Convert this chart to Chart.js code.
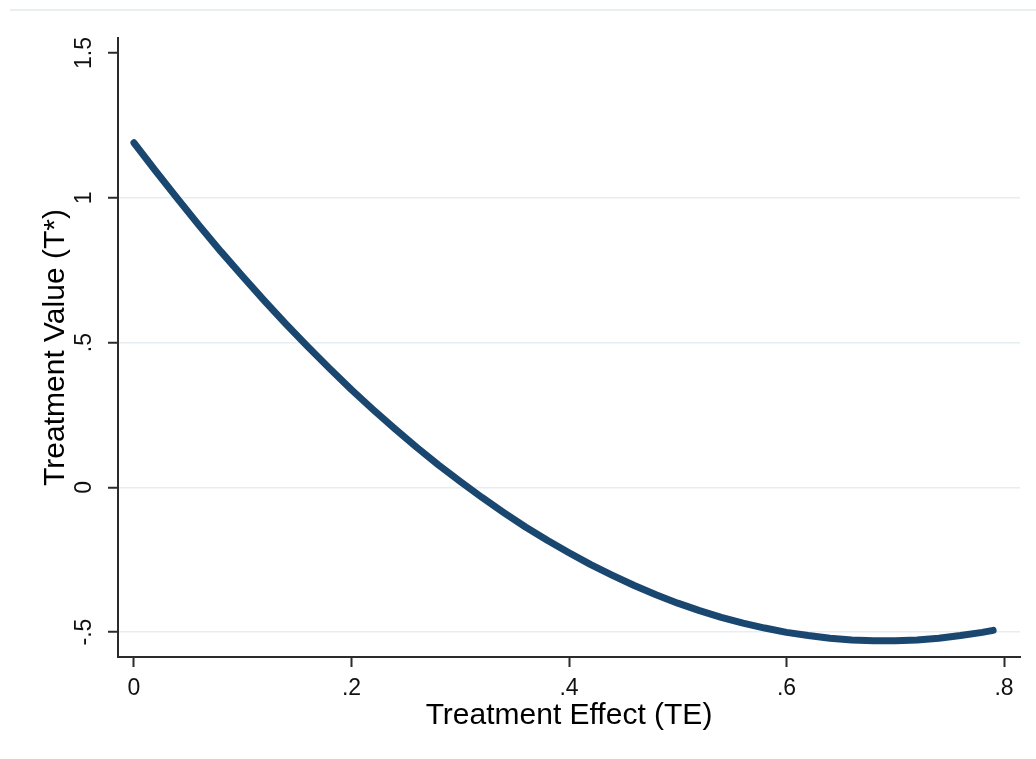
<!DOCTYPE html>
<html>
<head>
<meta charset="utf-8">
<script src="https://cdn.jsdelivr.net/npm/chart.js@4/dist/chart.umd.min.js"></script>
<style>
  html, body { margin: 0; padding: 0; background: #fff; }
  #wrap { width: 1036px; height: 759px; position: relative; }
</style>
</head>
<body>
<div id="wrap"><canvas id="chart" width="1036" height="759"></canvas></div>
<script>
// treatment effect (TE) and treatment value (T*)
const teValues = [
	0, 0.02, 0.04, 0.06, 0.08, 0.10, 0.12, 0.14, 0.16, 0.18,
	0.20, 0.22, 0.24, 0.26, 0.28, 0.30, 0.32, 0.34, 0.36, 0.38,
	0.40, 0.42, 0.44, 0.46, 0.48, 0.50, 0.52, 0.54, 0.56, 0.58,
	0.60, 0.62, 0.64, 0.66, 0.68, 0.70, 0.72, 0.74, 0.76, 0.78, 0.79,
];
const tValues = [
	1.19, 1.092, 0.997, 0.904, 0.814, 0.728, 0.644, 0.563, 0.485, 0.410,
	0.337, 0.268, 0.202, 0.138, 0.077, 0.020, -0.035, -0.087, -0.137, -0.183,
	-0.226, -0.267, -0.304, -0.339, -0.371, -0.400, -0.426, -0.449, -0.469, -0.486,
	-0.501, -0.512, -0.521, -0.527, -0.530, -0.530, -0.527, -0.521, -0.512, -0.501, -0.494,
];

const xTicks = [0, 0.2, 0.4, 0.6, 0.8];
const xTickLabels = ['0', '.2', '.4', '.6', '.8'];
const yTicks = [-0.5, 0, 0.5, 1, 1.5];
const yTickLabels = ['-.5', '0', '.5', '1', '1.5'];

const FONT = '"Liberation Sans", Arial, sans-serif';
const AXIS = '#2b2b2b';
const GRID = '#e6eef1';

// faint frame line across the top, as in the original export
const topRule = {
	id: 'topRule',
	beforeDraw(chart) {
		const ctx = chart.ctx;
		ctx.save();
		ctx.strokeStyle = '#e9eff1';
		ctx.lineWidth = 2;
		ctx.beginPath();
		ctx.moveTo(10, 10);
		ctx.lineTo(chart.width, 10);
		ctx.stroke();
		ctx.restore();
	},
};

const points = teValues.map((x, i) => ({ x, y: tValues[i] }));

new Chart(document.getElementById('chart'), {
	type: 'line',
	data: {
		datasets: [{
			data: points,
			borderColor: '#1a476f',
			borderWidth: 7,
			borderCapStyle: 'round',
			borderJoinStyle: 'round',
			pointRadius: 0,
			tension: 0,
			fill: false,
		}],
	},
	options: {
		responsive: false,
		animation: false,
		layout: { padding: { top: 38, right: 16, bottom: 0, left: 0 } },
		plugins: {
			legend: { display: false },
			tooltip: { enabled: false },
		},
		scales: {
			x: {
				type: 'linear',
				min: -0.0147,
				max: 0.8147,
				afterBuildTicks: (s) => { s.ticks = xTicks.map((v) => ({ value: v })); },
				afterFit: (s) => { s.height = 102; },
				border: { color: AXIS, width: 2 },
				grid: {
					color: 'rgba(0,0,0,0)',
					drawOnChartArea: false,
					tickColor: AXIS,
					tickLength: 10,
					tickWidth: 2,
				},
				ticks: {
					color: '#111',
					font: { family: FONT, size: 23 },
					padding: 8,
					maxRotation: 0,
					autoSkip: false,
					callback: (v, i) => xTickLabels[i],
				},
				title: {
					display: true,
					text: 'Treatment Effect (TE)',
					color: '#000',
					font: { family: FONT, size: 30, lineHeight: 1.2 },
					padding: { top: 0, bottom: 25 },
				},
			},
			y: {
				type: 'linear',
				min: -0.586,
				max: 1.552,
				afterBuildTicks: (s) => { s.ticks = yTicks.map((v) => ({ value: v })); },
				afterFit: (s) => { s.width = 118; },
				border: { color: AXIS, width: 2 },
				grid: {
					color: (c) => (c.tick && c.tick.value === 1.5 ? 'rgba(0,0,0,0)' : GRID),
					lineWidth: 1.5,
					tickColor: AXIS,
					tickLength: 10,
					tickWidth: 2,
				},
				ticks: {
					color: '#111',
					font: { family: FONT, size: 23 },
					padding: 7,
					minRotation: 90,
					maxRotation: 90,
					crossAlign: 'center',
					autoSkip: false,
					callback: (v, i) => yTickLabels[i],
				},
				title: {
					display: true,
					text: 'Treatment Value (T*)',
					color: '#000',
					font: { family: FONT, size: 30, lineHeight: 1.2 },
					padding: { top: 38, bottom: 0 },
				},
			},
		},
	},
	plugins: [topRule],
});
</script>
</body>
</html>
